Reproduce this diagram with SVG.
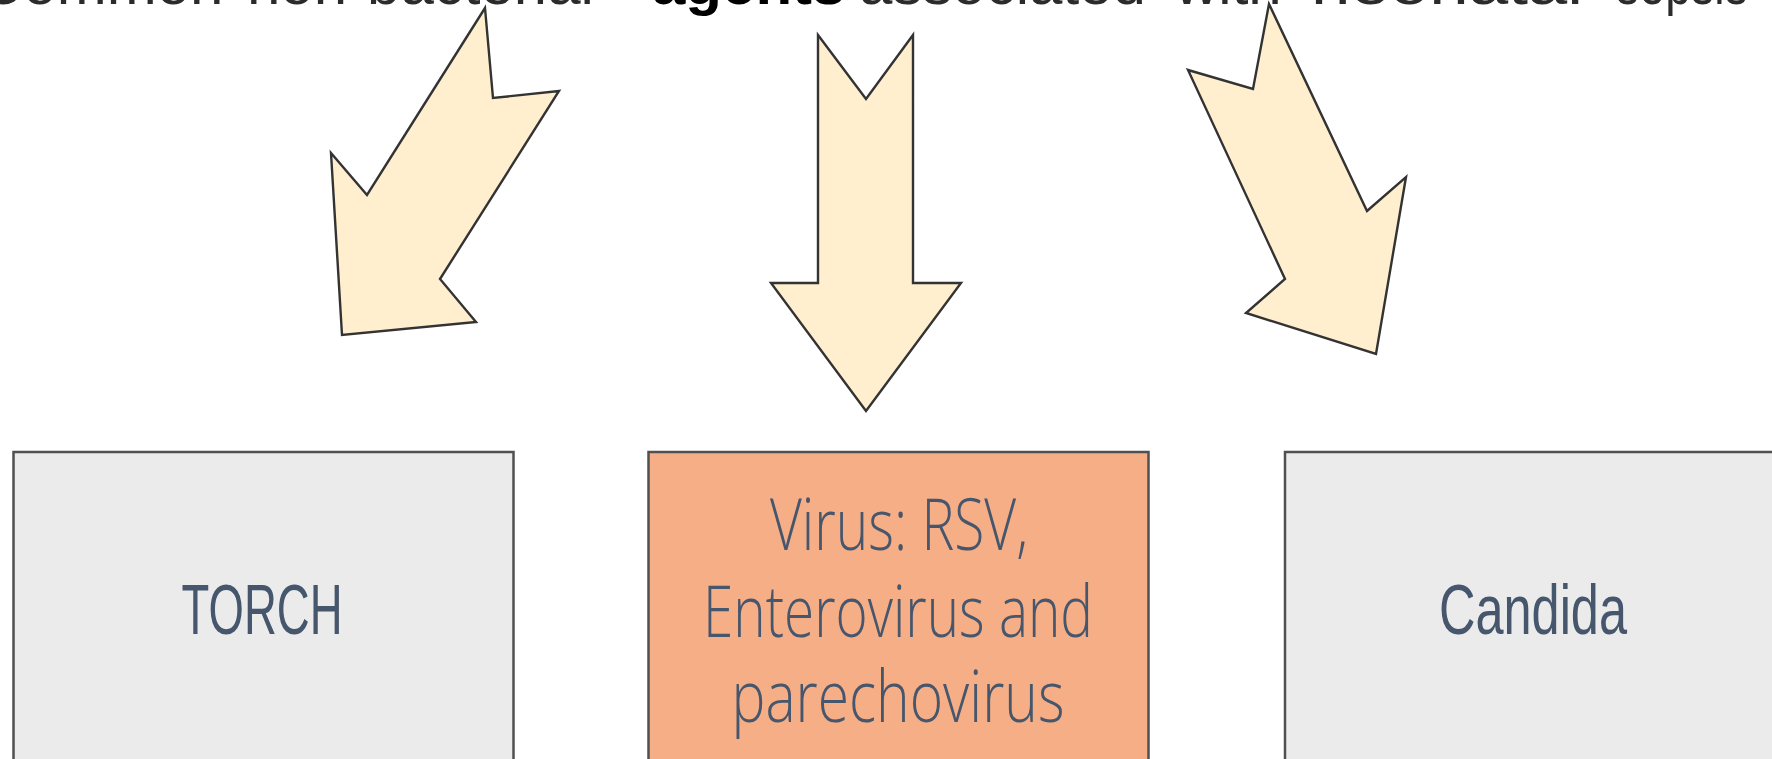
<svg xmlns="http://www.w3.org/2000/svg" width="1772" height="759" viewBox="0 0 1772 759">
  <style>
    .title { font-family: "Liberation Sans", Arial, sans-serif; font-size: 60px; fill: #2b2b2b; }
    .title .b { font-weight: bold; fill: #000; }
    .box { stroke: #505050; stroke-width: 2.5; }
    .grey { fill: #EBEBEB; }
    .orange { fill: #F5AE86; }
    .narrow { font-family: "Liberation Sans Narrow", "Liberation Sans", Arial, sans-serif; font-size: 71px; fill: #46566C; text-anchor: middle; }
    .geo { font-family: "Open Sans", "Liberation Sans", sans-serif; font-weight: 300; font-size: 72px; fill: #46566C; text-anchor: middle; }
    .arrow { fill: #FFEFCF; stroke: #333; stroke-width: 2.4; stroke-linejoin: miter; }
  </style>

  <g id="title">
    <text class="title" y="4"><tspan x="-20">Common</tspan><tspan x="247">non-bacterial</tspan><tspan class="b" x="652">agents</tspan><tspan x="859">associated</tspan><tspan x="1175">with</tspan><tspan x="1311" textLength="272" lengthAdjust="spacingAndGlyphs">neonatal</tspan><tspan x="1616" textLength="132" lengthAdjust="spacingAndGlyphs">sepsis</tspan></text>
  </g>

  <g id="connectors">
    <polygon class="arrow" points="485,8 493,98 559,91 440,279 476,322 342,335 331,153 367,195"/>
    <polygon class="arrow" points="818,35 866,99 913,35 913,283 961,283 866,411 771,283 818,283"/>
    <polygon class="arrow" points="1269,4 1253,89 1188,70 1285,279 1246,313 1376,354 1406,177 1367,211"/>
  </g>

  <g id="node-torch">
    <rect class="box grey" x="13.5" y="452" width="500" height="330"/>
    <text class="narrow" x="262" y="634" textLength="161" lengthAdjust="spacingAndGlyphs">TORCH</text>
  </g>

  <g id="node-virus">
    <rect class="box orange" x="648.5" y="452" width="500" height="330"/>
    <text class="geo" x="899" y="550" textLength="258" lengthAdjust="spacingAndGlyphs">Virus: RSV,</text>
    <text class="geo" x="898" y="637" textLength="390" lengthAdjust="spacingAndGlyphs">Enterovirus and</text>
    <text class="geo" x="898" y="722" textLength="333" lengthAdjust="spacingAndGlyphs">parechovirus</text>
  </g>

  <g id="node-candida">
    <rect class="box grey" x="1285" y="452" width="500" height="330"/>
    <text class="narrow" x="1533" y="634" textLength="188" lengthAdjust="spacingAndGlyphs">Candida</text>
  </g>
</svg>
